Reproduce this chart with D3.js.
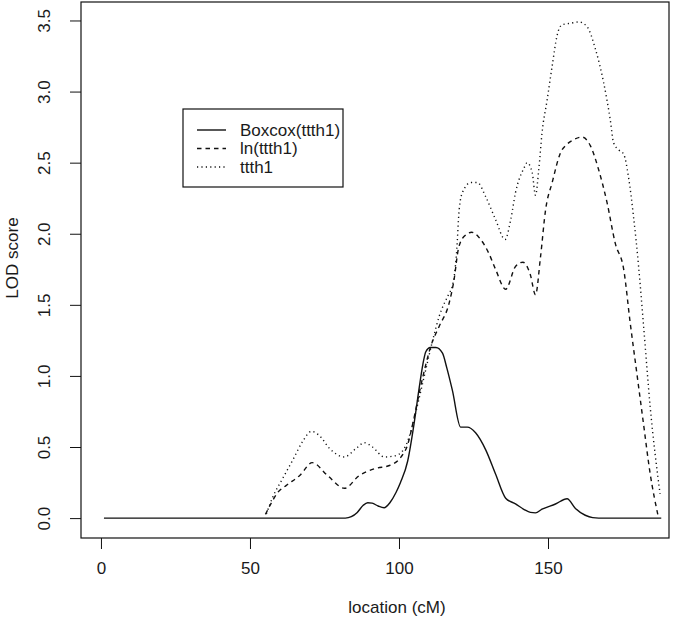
<!DOCTYPE html>
<html>
<head>
<meta charset="utf-8">
<script src="https://cdn.jsdelivr.net/npm/d3@7"></script>
<style>
  body { margin: 0; background: #fff; }
  text { font-family: "Liberation Sans", Arial, sans-serif; fill: #1a1a1a; }
</style>
</head>
<body>
<div id="chart"></div>
<script>
// LOD profiles along the chromosome: [location cM, LOD]
var boxcox = [[1,0],[82,0],[84,0.01],[86,0.04],[88,0.09],[89.5,0.108],[91,0.105],[93,0.085],[95,0.073],
  [97,0.11],[99,0.18],[100.5,0.25],[102.9,0.40],[105.1,0.67],[106.8,0.92],[108,1.08],[109,1.17],
  [110.5,1.2],[112.4,1.2],[114.6,1.16],[116,1.06],[117.9,0.9],[120.7,0.64],[122.9,0.64],[125.7,0.6],
  [129.1,0.48],[132.4,0.31],[135.8,0.14],[139.1,0.1],[142,0.06],[144.1,0.04],[145.8,0.037],[148,0.063],
  [152.5,0.099],[156.4,0.136],[159.2,0.068],[162.5,0.02],[165,0.003],[167,0],[188,0]];

var lnT = [[55.2,0.026],[57,0.1],[59.3,0.18],[62.2,0.23],[66.7,0.3],[70.9,0.39],[76,0.3],[81.7,0.21],
  [86.7,0.3],[92.3,0.35],[96.8,0.37],[100.7,0.43],[102.8,0.51],[105,0.7],[107,0.9],[109,1.08],
  [110.7,1.21],[113.5,1.35],[116.8,1.51],[118.5,1.68],[119.9,1.89],[121.8,1.98],[124.4,2.01],
  [127.4,1.96],[130.2,1.86],[132.4,1.75],[135.8,1.61],[139.1,1.77],[141.6,1.8],[144.1,1.71],
  [145.8,1.57],[147.5,1.84],[149.2,2.17],[151.4,2.36],[154.2,2.57],[156.4,2.63],[158.5,2.66],
  [161.4,2.68],[164.2,2.62],[167,2.45],[169.8,2.22],[172.6,1.93],[175.4,1.75],[177.6,1.37],
  [179.8,1.02],[182,0.67],[184.3,0.31],[187,0.01]];

var ttth1 = [[55.5,0.03],[57.7,0.15],[61,0.28],[64.4,0.41],[67.7,0.54],[70.6,0.61],[73.3,0.58],
  [76.7,0.49],[81.7,0.43],[85.6,0.49],[88.4,0.53],[91.1,0.5],[95.1,0.43],[99,0.44],[102.3,0.51],
  [104.5,0.65],[106.5,0.82],[108.5,1.0],[111.3,1.25],[113.5,1.42],[116.8,1.58],[117.9,1.63],
  [119.3,1.86],[120.2,2.17],[121.3,2.29],[124.1,2.36],[126.3,2.36],[129.1,2.26],[132.4,2.1],
  [135.6,1.96],[137.5,2.1],[139.1,2.29],[141.9,2.46],[143,2.5],[144.7,2.43],[145.8,2.27],
  [146.9,2.45],[148,2.71],[149.7,2.94],[151.4,3.18],[153,3.39],[154.7,3.47],[157.5,3.48],
  [160.3,3.49],[163,3.46],[165.9,3.3],[168.7,3.06],[170.9,2.8],[172,2.64],[173.7,2.59],
  [175.4,2.56],[177,2.4],[178.7,2.12],[180.4,1.77],[182,1.37],[184.3,0.78],[187.6,0.17]];

var xTicks = [0, 50, 100, 150];
var yTicks = [0, 0.5, 1, 1.5, 2, 2.5, 3, 3.5];
var seriesNames = ["Boxcox(ttth1)", "ln(ttth1)", "ttth1"];
var dashes = [null, "4.5,4", "1.2,3.2"];

var W = 685, H = 623;
var box = {left: 81, right: 669, top: 2, bottom: 538};

var svg = d3.select("#chart").append("svg")
    .attr("width", W)
    .attr("height", H);

var x = d3.scaleLinear().domain([-6.7, 190.6]).range([box.left, box.right]),
    y = d3.scaleLinear().domain([-0.14, 3.63]).range([box.bottom, box.top]);

var line = d3.line()
    .curve(d3.curveMonotoneX)
    .x(function (d) { return x(d[0]); })
    .y(function (d) { return y(d[1]); });

// x axis (R style: detached ticks below the box)
var xAxis = svg.append("g")
    .attr("transform", "translate(0," + box.bottom + ")")
    .call(d3.axisBottom(x).tickValues(xTicks).tickSize(11).tickPadding(13).tickFormat(d3.format("d")));
xAxis.select(".domain").remove();
xAxis.selectAll("text").style("font-size", "17px").attr("fill", "#1a1a1a");
xAxis.selectAll("line").attr("stroke", "#111");

var yAxis = svg.append("g")
    .attr("transform", "translate(" + box.left + ",0)")
    .call(d3.axisLeft(y).tickValues(yTicks).tickSize(11).tickFormat(d3.format(".1f")));
yAxis.select(".domain").remove();
yAxis.selectAll("line").attr("stroke", "#111");
yAxis.selectAll("text")
    .attr("x", 0).attr("dy", null)
    .attr("transform", "translate(-37,0) rotate(-90)")
    .attr("text-anchor", "middle")
    .attr("dominant-baseline", "central")
    .style("font-size", "17px")
    .attr("fill", "#1a1a1a");

// plot frame
svg.append("rect")
    .attr("x", box.left).attr("y", box.top)
    .attr("width", box.right - box.left).attr("height", box.bottom - box.top)
    .attr("fill", "none").attr("stroke", "#111").attr("stroke-width", 1.2);

[boxcox, lnT, ttth1].forEach(function (s, i) {
    svg.append("path")
        .attr("d", line(s))
        .attr("fill", "none")
        .attr("stroke", "#111")
        .attr("stroke-width", 1.4)
        .attr("stroke-dasharray", dashes[i]);
});

svg.append("text")
    .attr("x", (box.left + box.right) / 2 + 22)
    .attr("y", 613)
    .attr("text-anchor", "middle")
    .style("font-size", "17px")
    .text("location (cM)");

svg.append("text")
    .attr("transform", "translate(18," + ((box.top + box.bottom) / 2 - 12) + ") rotate(-90)")
    .attr("text-anchor", "middle")
    .style("font-size", "17px")
    .text("LOD score");

// legend
var lg = svg.append("g");
lg.append("rect")
    .attr("x", 183).attr("y", 109).attr("width", 160).attr("height", 78)
    .attr("fill", "#fff").attr("stroke", "#111").attr("stroke-width", 1.2);
seriesNames.forEach(function (name, i) {
    var yy = 130 + i * 18.5;
    lg.append("line")
        .attr("x1", 197).attr("x2", 226).attr("y1", yy).attr("y2", yy)
        .attr("stroke", "#111").attr("stroke-width", 1.4)
        .attr("stroke-dasharray", dashes[i]);
    lg.append("text")
        .attr("x", 240).attr("y", yy)
        .attr("dominant-baseline", "central")
        .style("font-size", "17px")
        .text(name);
});
</script>
</body>
</html>
